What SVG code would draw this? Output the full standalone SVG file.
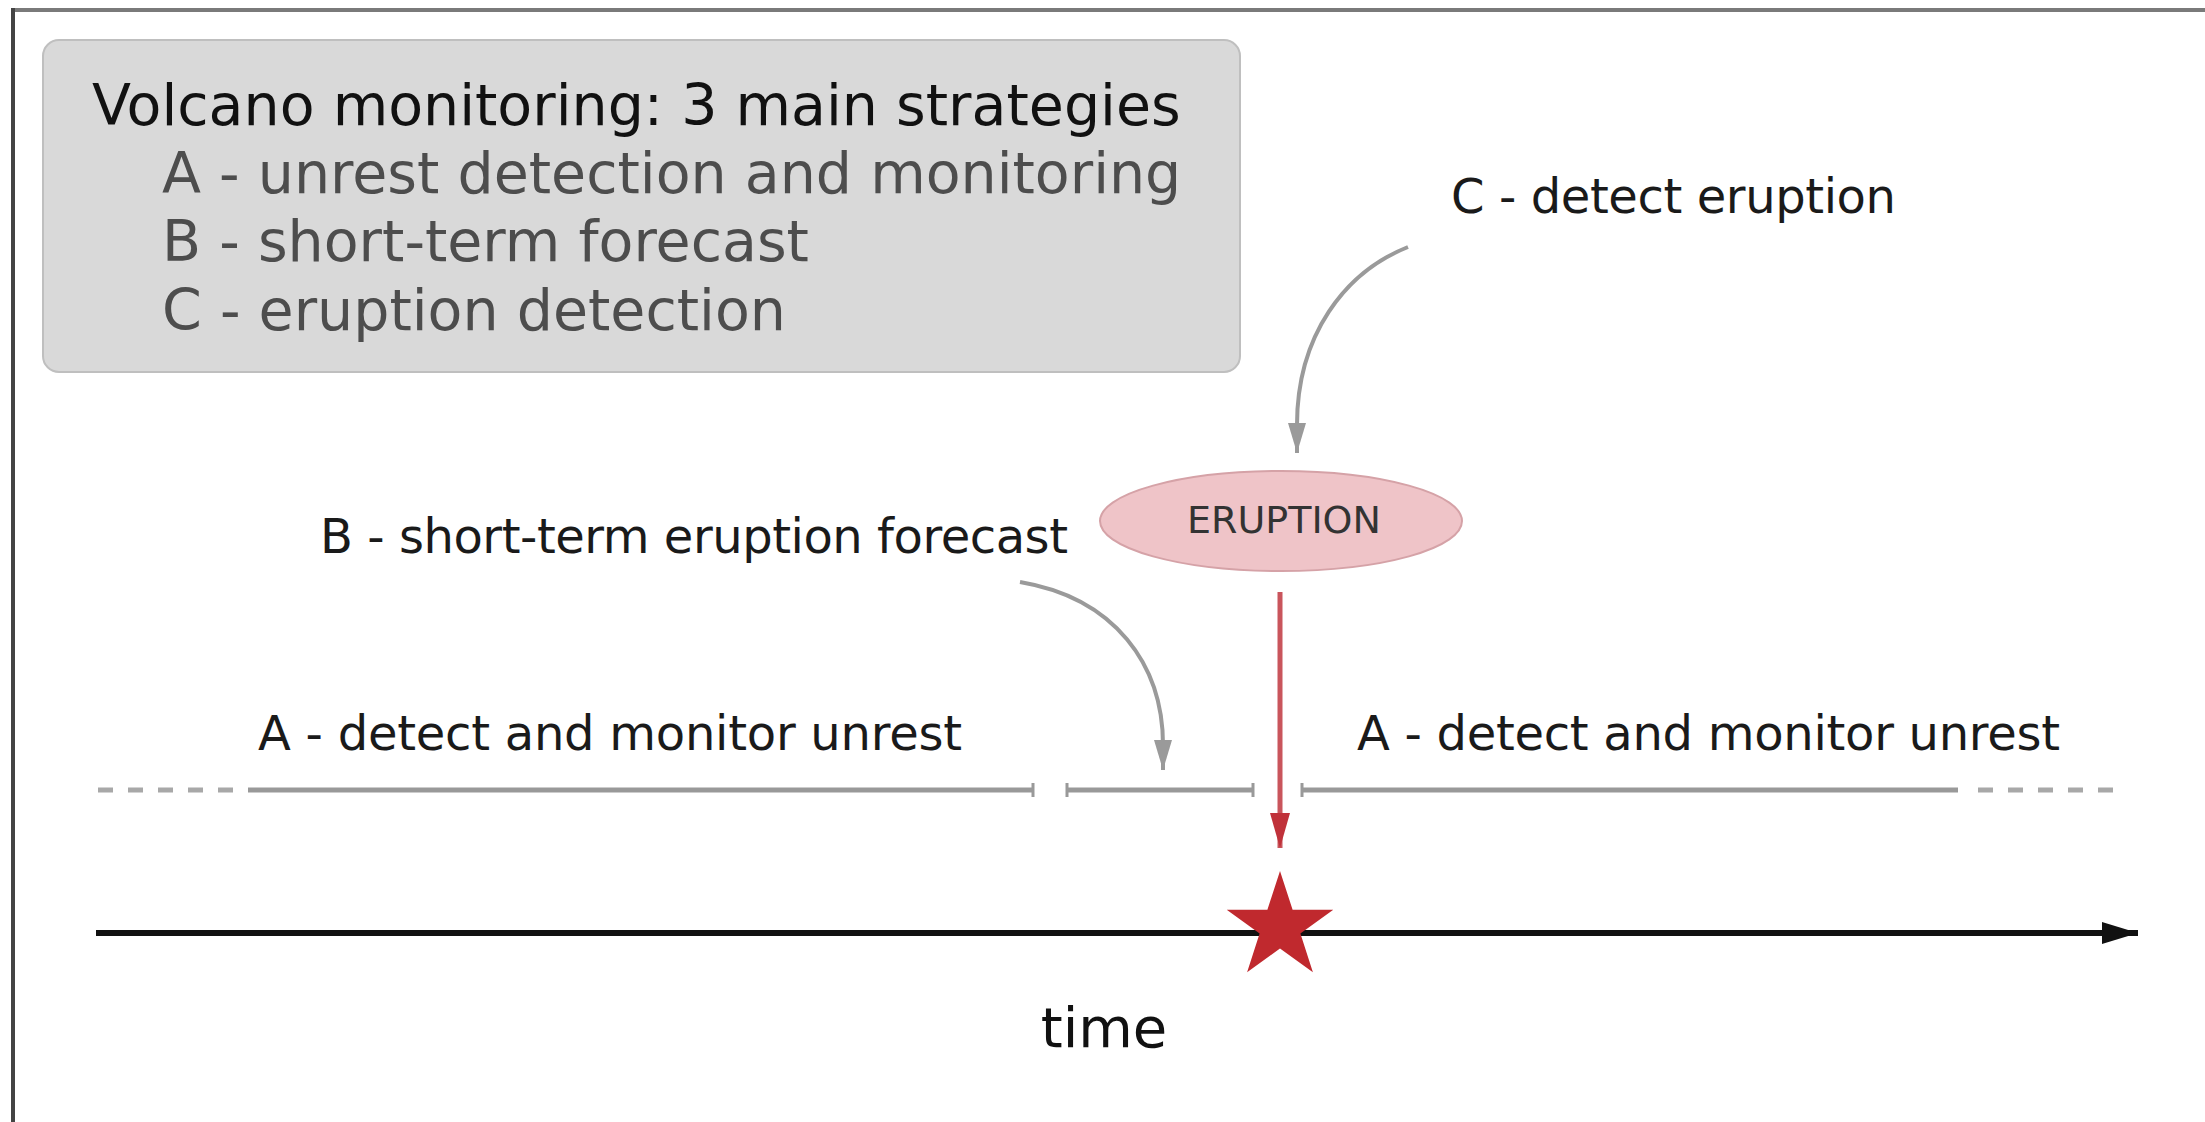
<svg xmlns="http://www.w3.org/2000/svg" width="2205" height="1122" viewBox="0 0 2205 1122">
  <style>
    .lbl { font-family: "DejaVu Sans", "Liberation Sans", sans-serif; font-size: 48px; fill: #1a1a1a; }
    .leg { font-family: "DejaVu Sans", "Liberation Sans", sans-serif; font-size: 57px; }
    .seg { stroke: #999; stroke-width: 5; fill: none; }
    .dash { stroke: #a8a8a8; stroke-width: 5; fill: none; stroke-dasharray: 15 15; }
    .tick { stroke: #999; stroke-width: 3; }
    .garrow { stroke: #9a9a9a; stroke-width: 4; fill: none; }
  </style>
  <defs>
    <marker id="grayHead" markerUnits="userSpaceOnUse" viewBox="0 0 30 18" refX="30" refY="9" markerWidth="30" markerHeight="18" orient="auto">
      <path d="M0,0 L30,9 L0,18 Z" fill="#9a9a9a"/>
    </marker>
    <marker id="redHead" markerUnits="userSpaceOnUse" viewBox="0 0 35 20" refX="35" refY="10" markerWidth="35" markerHeight="20" orient="auto">
      <path d="M0,0 L35,10 L0,20 Z" fill="#c0323a"/>
    </marker>
    <marker id="blackHead" markerUnits="userSpaceOnUse" viewBox="0 0 36 22" refX="36" refY="11" markerWidth="36" markerHeight="22" orient="auto">
      <path d="M0,0 L36,11 L0,22 Z" fill="#111"/>
    </marker>
  </defs>

  <rect x="0" y="0" width="2205" height="1122" fill="#ffffff"/>

  <g id="frame">
    <line x1="11" y1="10" x2="2205" y2="10" stroke="#7a7a7a" stroke-width="4"/>
    <line x1="13" y1="8" x2="13" y2="1122" stroke="#444" stroke-width="4"/>
  </g>

  <g id="legend">
    <rect x="43" y="40" width="1197" height="332" rx="16" ry="16" fill="#d9d9d9" stroke="#bfbfbf" stroke-width="2"/>
    <text class="leg" x="92" y="125" fill="#111">Volcano monitoring: 3 main strategies</text>
    <text class="leg" x="162" y="193" fill="#4d4d4d">A - unrest detection and monitoring</text>
    <text class="leg" x="162" y="261" fill="#4d4d4d">B - short-term forecast</text>
    <text class="leg" x="162" y="330" fill="#4d4d4d">C - eruption detection</text>
  </g>

  <g id="label-c">
    <text class="lbl" x="1451" y="213" textLength="445" lengthAdjust="spacing">C - detect eruption</text>
  </g>

  <g id="label-b">
    <text class="lbl" x="320" y="553" textLength="748" lengthAdjust="spacing">B - short-term eruption forecast</text>
  </g>

  <g id="eruption">
    <ellipse cx="1281" cy="521" rx="181" ry="50" fill="#efc4c8" stroke="#d5a2a7" stroke-width="2"/>
    <text x="1284" y="533" text-anchor="middle" font-family="DejaVu Sans, Liberation Sans, sans-serif" font-size="38" fill="#333">ERUPTION</text>
  </g>

  <g id="label-a-left">
    <text class="lbl" x="258" y="750" textLength="704" lengthAdjust="spacing">A - detect and monitor unrest</text>
  </g>

  <g id="label-a-right">
    <text class="lbl" x="1357" y="750" textLength="703" lengthAdjust="spacing">A - detect and monitor unrest</text>
  </g>

  <g id="segments">
    <line class="dash" x1="98" y1="790" x2="236" y2="790"/>
    <line class="seg" x1="248" y1="790" x2="1033" y2="790"/>
    <line class="tick" x1="1033" y1="783" x2="1033" y2="797"/>
    <line class="seg" x1="1067" y1="790" x2="1253" y2="790"/>
    <line class="tick" x1="1067" y1="783" x2="1067" y2="797"/>
    <line class="tick" x1="1253" y1="783" x2="1253" y2="797"/>
    <line class="seg" x1="1302" y1="790" x2="1958" y2="790"/>
    <line class="tick" x1="1302" y1="783" x2="1302" y2="797"/>
    <line class="dash" x1="1978" y1="790" x2="2116" y2="790"/>
  </g>

  <g id="timeline">
    <line x1="96" y1="933" x2="2138" y2="933" stroke="#111" stroke-width="6" marker-end="url(#blackHead)"/>
    <text x="1104" y="1047" text-anchor="middle" font-family="DejaVu Sans, Liberation Sans, sans-serif" font-size="56" fill="#111">time</text>
  </g>

  <g id="star">
    <polygon points="1280,871 1292.6,909.7 1333.3,909.7 1300.4,933.6 1312.9,972.3 1280,948.4 1247.1,972.3 1259.6,933.6 1226.7,909.7 1267.4,909.7" fill="#c0292e"/>
  </g>

  <g id="connectors">
    <path class="garrow" d="M1408,247 C1345,272 1297,335 1297,425 L1297,453" marker-end="url(#grayHead)"/>
    <path class="garrow" d="M1020,582 C1115,598 1163,665 1163,745 L1163,770" marker-end="url(#grayHead)"/>
    <line x1="1280" y1="592" x2="1280" y2="848" stroke="#c9555c" stroke-width="5" marker-end="url(#redHead)"/>
  </g>
</svg>
